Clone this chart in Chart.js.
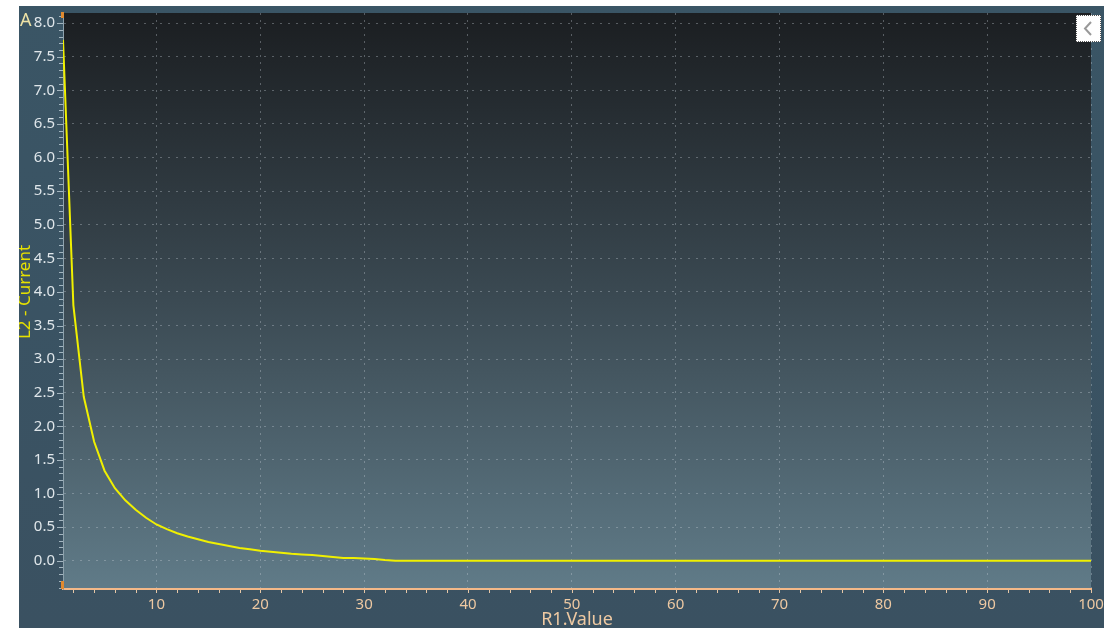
<!DOCTYPE html>
<html>
<head>
<meta charset="utf-8">
<script src="https://cdn.jsdelivr.net/npm/chart.js@4"></script>
<style>
  html, body { margin: 0; padding: 0; background: #ffffff; }
  #panel {
    position: absolute; left: 19px; top: 6px; width: 1085px; height: 622px;
    background: linear-gradient(#3a5565, #3a5161);
  }
  #chart { position: absolute; left: 0; top: 0; }
  #collapse {
    position: absolute; left: 1076px; top: 15px; width: 23px; height: 25px;
    background: #ffffff; border: 1px dotted #555;
  }
</style>
</head>
<body>
<div id="panel">
  <canvas id="chart" width="1085" height="622"></canvas>
</div>
<div id="collapse">
  <svg width="23" height="25"><polyline points="14,6 8,12.5 14,19" fill="none" stroke="#999" stroke-width="2"/></svg>
</div>
<script>
// R1.Value sweep vs L2 current
const xValues = [1, 2, 3, 4, 5, 6, 7, 8, 9, 10, 11, 12, 13, 14, 15, 16, 17, 18, 19, 20,
                 21, 22, 23, 24, 25, 26, 27, 28, 29, 30, 31, 32, 33, 100];
const currentValues = [7.75, 3.80, 2.44, 1.77, 1.34, 1.08, 0.90, 0.76, 0.64, 0.54, 0.47, 0.41, 0.36, 0.32,
                       0.28, 0.25, 0.22, 0.19, 0.17, 0.15, 0.135, 0.12, 0.105, 0.095, 0.085, 0.07, 0.055,
                       0.04, 0.04, 0.035, 0.025, 0.01, 0.0, 0.0];
const xTickValues = [10, 20, 30, 40, 50, 60, 70, 80, 90, 100];
const yTickValues = [0, 0.5, 1, 1.5, 2, 2.5, 3, 3.5, 4, 4.5, 5, 5.5, 6, 6.5, 7, 7.5, 8];

const points = xValues.map((x, i) => ({ x: x, y: currentValues[i] }));

const plotBackground = {
  id: 'plotBackground',
  beforeDraw(chart) {
    const { ctx, chartArea: a } = chart;
    const g = ctx.createLinearGradient(0, a.top, 0, a.bottom);
    g.addColorStop(0, '#1b1e21');
    g.addColorStop(0.5, '#3b4a53');
    g.addColorStop(1, '#607b88');
    ctx.save();
    ctx.fillStyle = g;
    ctx.fillRect(a.left, a.top, a.right - a.left, a.bottom - a.top);
    ctx.restore();
  }
};

const axisDecor = {
  id: 'axisDecor',
  afterDraw(chart) {
    const { ctx, chartArea: a, scales: { x, y } } = chart;
    ctx.save();
    // y ticks (0.1 step)
    ctx.strokeStyle = '#a3b5bf';
    ctx.lineWidth = 1;
    for (let i = -4; i <= 81; i++) {
      const py = Math.round(y.getPixelForValue(i / 10)) + 0.5;
      const len = i % 5 === 0 ? 6 : 4;
      ctx.beginPath();
      ctx.moveTo(a.left - len, py);
      ctx.lineTo(a.left, py);
      ctx.stroke();
    }
    // x ticks (2 step)
    ctx.strokeStyle = '#e6c7a6';
    for (let v = 2; v <= 100; v += 2) {
      const px = Math.round(x.getPixelForValue(v)) + 0.5;
      ctx.beginPath();
      ctx.moveTo(px, a.bottom + 1);
      ctx.lineTo(px, a.bottom + 4);
      ctx.stroke();
    }
    // orange markers
    ctx.fillStyle = '#e08a30';
    ctx.fillRect(a.left - 2, a.top - 1, 3, 6);
    ctx.fillRect(a.left - 2, a.bottom - 8, 3, 8);
    // axis title + unit
    ctx.font = '18px "Noto Sans"';
    ctx.fillStyle = '#eee3a6';
    ctx.textBaseline = 'alphabetic';
    ctx.textAlign = 'left';
    ctx.fillText('A', 1, 20);
    ctx.translate(6, 286);
    ctx.rotate(-Math.PI / 2);
    ctx.font = '17px "Noto Sans"';
    ctx.fillStyle = '#e6e000';
    ctx.textAlign = 'center';
    ctx.textBaseline = 'middle';
    ctx.fillText('L2 - Current', 0, 0);
    ctx.restore();
  }
};

new Chart(document.getElementById('chart'), {
  type: 'line',
  data: {
    datasets: [{
      label: 'L2 - Current',
      data: points,
      borderColor: '#f0f000',
      borderWidth: 2,
      pointRadius: 0,
      tension: 0
    }]
  },
  options: {
    responsive: false,
    animation: false,
    devicePixelRatio: 1,
    layout: { padding: { top: 7, right: 13, left: 0, bottom: 0 } },
    plugins: { legend: { display: false }, tooltip: { enabled: false } },
    scales: {
      x: {
        type: 'linear',
        min: 1,
        max: 100,
        afterBuildTicks: s => { s.ticks = xTickValues.map(v => ({ value: v })); },
        afterFit: s => { s.height = 39; s.paddingLeft = 0; s.paddingRight = 0; },
        grid: { color: 'rgba(200, 210, 218, 0.35)', drawTicks: false },
        border: { color: '#f3b888', width: 2, dash: [2, 5] },
        ticks: { color: '#eec9a2', font: { family: 'Noto Sans', size: 15 }, padding: 7, maxRotation: 0 },
        title: {
          display: true, text: 'R1.Value', color: '#eec9a2',
          font: { family: 'Noto Sans', size: 18 }, padding: { top: 0, bottom: -3 }
        }
      },
      y: {
        min: -0.42,
        max: 8.15,
        afterBuildTicks: s => { s.ticks = yTickValues.map(v => ({ value: v })); },
        afterFit: s => { s.width = 44; s.paddingTop = 0; s.paddingBottom = 0; },
        grid: { color: 'rgba(200, 210, 218, 0.35)', drawTicks: false },
        border: { color: '#8ea2ad', width: 1, dash: [2, 6] },
        ticks: {
          color: '#dfe6ea', font: { family: 'Noto Sans', size: 15 }, padding: 8,
          callback: v => v.toFixed(1)
        }
      }
    }
  },
  plugins: [plotBackground, axisDecor]
});
</script>
</body>
</html>
